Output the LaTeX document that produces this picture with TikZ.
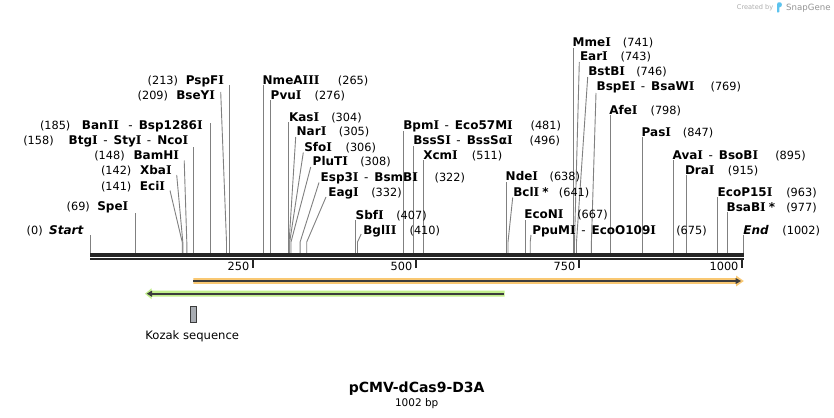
\documentclass[tikz,border=0pt]{standalone}
\usepackage{fontspec}
\setmainfont{DejaVu Sans}
\newfontfamily\serifIfam{DejaVu Serif}
\newcommand\Iv{{\serifIfam\bfseries I}}
\definecolor{cutgray}{HTML}{808080}
\definecolor{bbcol}{HTML}{262626}
\definecolor{orfill}{HTML}{F9C873}
\definecolor{grfill}{HTML}{C2EF8C}
\definecolor{featdark}{HTML}{3C3C3C}
\definecolor{kozfill}{HTML}{A8ACB2}
\definecolor{sgblue}{HTML}{5CC3EE}
\tikzset{
  enz/.style={font=\fontsize{12}{12}\selectfont\bfseries, inner sep=0pt, outer sep=0pt},
  num/.style={font=\fontsize{11.3}{12}\selectfont, inner sep=0pt, outer sep=0pt},
  cut/.style={draw=cutgray, line width=0.9pt},
  tickmark/.style={draw=bbcol, line width=2pt},
}
\newcommand\sepd{\hspace{5.5pt}{\mdseries-}\hspace{6pt}}
\newcommand\enzL[6]{% id, y, num start x, num, name end x, name
  \node[num,anchor=base west] (#1-p) at ({#3},{#2+4.2}) {(#4)};
  \node[enz,anchor=base east] (#1-n) at ({#5},{#2+4.2}) {#6};}
\newcommand\enzR[6]{% id, y, name start x, name, num end x, num
  \node[enz,anchor=base west] (#1-n) at ({#3},{#2+4.2}) {#4};
  \node[num,anchor=base east] (#1-p) at ({#5},{#2+4.2}) {(#6)};}
\newcommand\cutV[3]{% id, x, ytop
  \coordinate (#1-t) at ({#2},{#3});
  \coordinate (#1-b) at ({#2},253.5);
  \draw[cut] (#1-t) -- (#1-b);}
\newcommand\cutS[4]{% id, xtop, ytop, x
  \coordinate (#1-t) at ({#2},{#3});
  \coordinate (#1-k) at ({#4},242);
  \coordinate (#1-b) at ({#4},253.5);
  \draw[cut] (#1-t) -- (#1-k) -- (#1-b);}
\begin{document}
\begin{tikzpicture}[x=1pt,y=-1pt]
\useasboundingbox (0,0) rectangle (834,417);
\fill[white] (0,0) rectangle (834,417);

% ---------- cut-site lines ----------
\cutV{Start}{90.3}{235}
\cutV{SpeI}{135.1}{213}
\cutS{EciI}{170}{190.5}{182.2}
\cutS{XbaI}{176.7}{175}{182.8}
\cutS{BamHI}{184.2}{160.5}{186.8}
\cutV{NcoI}{193.3}{147}
\cutV{BanII}{210.9}{123}
\cutS{BseYI}{220.7}{92}{226.5}
\cutV{PspFI}{229.1}{85}
\cutV{NmeAIII}{263}{85}
\cutV{PvuI}{270.4}{100}
\cutV{KasI}{288.4}{122}
\cutS{NarI}{295.7}{137}{289.1}
\cutS{SfoI}{303.3}{152.5}{289.7}
\cutS{PluTI}{310.7}{167}{291}
\cutS{Esp3I}{319}{182.5}{300.1}
\cutS{EagI}{326}{197}{306.7}
\cutV{SbfI}{355.5}{220}
\cutS{BglII}{361.2}{234}{357.5}
\cutV{BpmI}{403.8}{131}
\cutV{BssSI}{413.5}{146}
\cutV{XcmI}{423.3}{160}
\cutV{NdeI}{506.1}{182}
\cutS{BclI}{512.7}{197.5}{508}
\cutV{EcoNI}{525}{220}
\cutS{PpuMI}{531}{235}{530.2}
\cutV{MmeI}{573.2}{48}
\cutS{EarI}{579.3}{62}{574.5}
\cutS{BstBI}{587.7}{77}{576.5}
\cutS{BspEI}{596}{93}{591.4}
\cutV{AfeI}{610.3}{115}
\cutV{PasI}{642.3}{137}
\cutV{AvaI}{673.6}{160}
\cutV{DraI}{686.6}{175}
\cutV{EcoP15I}{717.9}{197}
\cutV{BsaBI}{727}{212}
\cutV{End}{743.3}{235}

% ---------- labels, left side ----------
\enzL{Start}{230}{26.7}{0}{83.3}{\itshape Start}
\enzL{SpeI}{206.7}{66.7}{69}{128.3}{Spe\Iv}
\enzL{EciI}{186}{101}{141}{165}{Eci\Iv}
\enzL{XbaI}{170}{101}{142}{171.7}{Xba\Iv}
\enzL{BamHI}{155}{94.3}{148}{179}{BamH\Iv}
\enzL{NcoI}{140}{23.3}{158}{188.3}{Btg\Iv\sepd Sty\Iv\sepd Nco\Iv}
\enzL{BanII}{125}{40}{185}{202.7}{Ban\Iv\Iv\hspace{4pt}\sepd Bsp1286\Iv}
\enzL{BseYI}{95}{137.7}{209}{215}{BseY\Iv}
\enzL{PspFI}{80}{147.7}{213}{224}{PspF\Iv}

% ---------- labels, right side ----------
\enzR{NmeAIII}{80}{262.7}{NmeA\Iv\Iv\Iv}{368.3}{265}
\enzR{PvuI}{95}{270.7}{Pvu\Iv}{345}{276}
\enzR{KasI}{117.3}{289}{Kas\Iv}{361.7}{304}
\enzR{NarI}{131.7}{296.7}{Nar\Iv}{369.3}{305}
\enzR{SfoI}{147.3}{304.3}{Sfo\Iv}{376}{306}
\enzR{PluTI}{161.7}{312.7}{PluT\Iv}{390.7}{308}
\enzR{Esp3I}{177.3}{320.7}{Esp3\Iv\sepd BsmB\Iv}{465}{322}
\enzR{EagI}{192.3}{328.3}{Eag\Iv}{401.7}{332}
\enzR{SbfI}{215}{355.7}{Sbf\Iv}{426.7}{407}
\enzR{BglII}{230}{363.3}{Bgl\Iv\Iv}{440}{410}
\enzR{BpmI}{125}{403.3}{Bpm\Iv\sepd Eco57M\Iv}{561}{481}
\enzR{BssSI}{140}{413.3}{BssS\Iv\sepd BssSα\Iv}{560}{496}
\enzR{XcmI}{155}{423.3}{Xcm\Iv}{502.3}{511}
\enzR{NdeI}{176}{505.7}{Nde\Iv}{580}{638}
\enzR{BclI}{192.3}{513.3}{Bcl\Iv\hspace{3pt}*}{589.3}{641}
\enzR{EcoNI}{214.3}{524.3}{EcoN\Iv}{607.7}{667}
\enzR{PpuMI}{230}{532.3}{PpuM\Iv\sepd EcoO109\Iv}{706.7}{675}
\enzR{MmeI}{42.7}{572.7}{Mme\Iv}{653.3}{741}
\enzR{EarI}{56.7}{580}{Ear\Iv}{651}{743}
\enzR{BstBI}{71.7}{588.3}{BstB\Iv}{666.7}{746}
\enzR{BspEI}{86.7}{596.7}{BspE\Iv\sepd BsaW\Iv}{741}{769}
\enzR{AfeI}{110}{609.3}{Afe\Iv}{681}{798}
\enzR{PasI}{132.3}{641.7}{Pas\Iv}{713.3}{847}
\enzR{AvaI}{155}{672.7}{Ava\Iv\sepd BsoB\Iv}{805.7}{895}
\enzR{DraI}{170}{685}{Dra\Iv}{758.3}{915}
\enzR{EcoP15I}{192.3}{717.7}{EcoP15\Iv}{816.7}{963}
\enzR{BsaBI}{207.3}{726.7}{BsaB\Iv\hspace{3pt}*}{816.7}{977}
\enzR{End}{230}{743.3}{\itshape End}{820}{1002}

% ---------- backbone ----------
\coordinate (bbL1) at (90,255);   \coordinate (bbR1) at (743.8,255);
\coordinate (bbL2) at (90,259);   \coordinate (bbR2) at (743.8,259);
\draw[bbcol, line width=3.2pt] (bbL1) -- (bbR1);
\draw[bbcol, line width=2.4pt] (bbL2) -- (bbR2);
\foreach \v/\x in {250/253.2,500/416.2,750/579.1,1000/742.3}{
  \coordinate (tk\v) at (\x,259);
  \coordinate (tke\v) at (\x,267.5);
  \draw[tickmark] (tk\v) -- (tke\v);
  \node[num,anchor=base east] (tl\v) at ({\x-3.9},270.8) {\v};
}

% ---------- features ----------
% orange (forward)
\fill[orfill] (193.3,278.2) -- (736,278.2) -- (736,275.5) -- (743.8,281) -- (736,286.5) -- (736,283.8) -- (193.3,283.8) -- cycle;
\coordinate (orS) at (193.3,281); \coordinate (orE) at (736,281);
\draw[featdark, line width=2pt] (orS) -- (orE);
\fill[featdark] (735.5,277.9) -- (741,281) -- (735.5,284.1) -- cycle;
% green (reverse)
\fill[grfill] (504.5,290.7) -- (151.5,290.7) -- (151.5,288.3) -- (145,293.7) -- (151.5,299.1) -- (151.5,296.7) -- (504.5,296.7) -- cycle;
\coordinate (grS) at (503.5,293.7); \coordinate (grE) at (151,293.7);
\draw[featdark, line width=2pt] (grS) -- (grE);
\fill[featdark] (152,290.6) -- (146.8,293.7) -- (152,296.8) -- cycle;

% Kozak
\node[draw=featdark, fill=kozfill, line width=0.8pt, minimum width=6.2pt, minimum height=16pt, inner sep=0pt] (kozak) at (193.5,314.2) {};
\node[num, font=\fontsize{11.6}{12}\selectfont, anchor=base] (kozaklab) at (192.2,339.9) {Kozak sequence};

% ---------- title ----------
\node[inner sep=0pt, font=\fontsize{14}{14}\selectfont\bfseries, anchor=base] (title) at (416.7,392.8) {pCMV-dCas9-D3A};
\node[inner sep=0pt, font=\fontsize{10.5}{11}\selectfont, anchor=base] (bp) at (416.7,406.1) {1002 bp};

% ---------- credit ----------
\node[inner sep=0pt, anchor=base west, text=black!32, font=\fontsize{6.6}{7}\selectfont] (cby) at (736.7,10) {Created by};
\fill[sgblue] (777.2,12.5) -- (777.2,4) .. controls (777.2,2.6) and (778,2.3) .. (779.2,2.3) -- (780,2.3) .. controls (782.3,2.3) and (782.6,6.8) .. (780,7.2) -- (779.4,7.3) -- (779.4,11.5) .. controls (779.4,12.3) and (778.5,13) .. (777.2,12.5) -- cycle;
\node[inner sep=0pt, anchor=base west, text=black!42, font=\fontsize{8.6}{9}\selectfont] (sg) at (786,10.6) {SnapGene};
\end{tikzpicture}
\end{document}
